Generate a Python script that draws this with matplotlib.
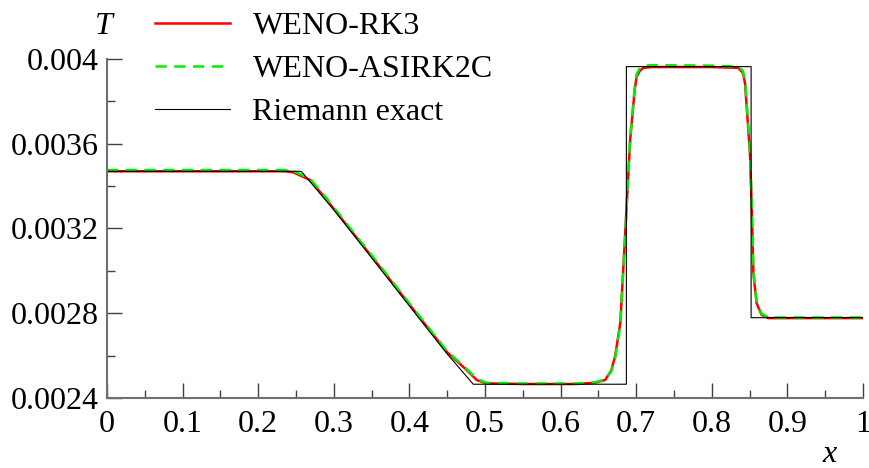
import numpy as np
import matplotlib
matplotlib.use("Agg")
import matplotlib.pyplot as plt
from matplotlib.ticker import MultipleLocator

plt.rcParams['font.family'] = ['Liberation Serif', 'DejaVu Serif']

# WENO-RK3 (red)
x_rk3 = [0, 0.235, 0.2465, 0.2685, 0.2906, 0.3038, 0.35, 0.4008, 0.4493, 0.4758,
         0.489, 0.502, 0.55, 0.62, 0.645, 0.659, 0.667, 0.672, 0.679, 0.685,
         0.692, 0.698, 0.7006, 0.705, 0.7095, 0.72, 0.80, 0.835, 0.841, 0.844,
         0.848, 0.8505, 0.8528, 0.855, 0.8593, 0.866, 0.875, 1.0]
T_rk3 = [0.00347, 0.00347, 0.003465, 0.003429, 0.003335, 0.003275, 0.003068, 0.002838, 0.002618, 0.002532,
         0.002485, 0.002469, 0.002466, 0.002466, 0.002472, 0.002485, 0.00253, 0.002595, 0.002754, 0.003146,
         0.003618, 0.003854, 0.003917, 0.003945, 0.003958, 0.003962, 0.003962, 0.003958, 0.003935, 0.003885,
         0.00368, 0.00355, 0.003303, 0.002989, 0.002847, 0.002792, 0.002777, 0.002777]

# WENO-ASIRK2C (green dashed)
x_asirk = [0, 0.235, 0.2465, 0.2685, 0.2906, 0.3038, 0.35, 0.4008, 0.4493, 0.4758,
           0.489, 0.502, 0.55, 0.62, 0.645, 0.659, 0.667, 0.672, 0.679, 0.685,
           0.692, 0.698, 0.7006, 0.705, 0.7095, 0.72, 0.80, 0.835, 0.841, 0.844,
           0.848, 0.8505, 0.8528, 0.855, 0.8593, 0.866, 0.875, 1.0]
T_asirk = [0.003476, 0.003476, 0.003471, 0.003436, 0.003342, 0.003282, 0.003074, 0.002843, 0.002623, 0.002537,
           0.00249, 0.002472, 0.002468, 0.002468, 0.002474, 0.002487, 0.002525, 0.002585, 0.002745, 0.00314,
           0.003625, 0.003865, 0.003928, 0.003958, 0.003968, 0.003971, 0.003969, 0.003963, 0.003945, 0.0039,
           0.0037, 0.00357, 0.00332, 0.003, 0.002855, 0.002797, 0.00278, 0.00278]

# Riemann exact (black)
x_exact = [0, 0.257, 0.3038, 0.4008, 0.4493, 0.4845, 0.687, 0.687, 0.852, 0.852, 1.0]
T_exact = [0.00347, 0.00347, 0.003272, 0.002831, 0.002611, 0.002465, 0.002465,
           0.003964, 0.003964, 0.002779, 0.002779]

xtick_labels = ['0', '0.1', '0.2', '0.3', '0.4', '0.5', '0.6', '0.7', '0.8', '0.9', '1']
ytick_vals = [0.0024, 0.0028, 0.0032, 0.0036, 0.004]
ytick_labels = ['0.0024', '0.0028', '0.0032', '0.0036', '0.004']

fs = 23

fig = plt.figure(figsize=(8.7, 4.68), dpi=100)
ax = fig.add_axes([107/870, 1-398/468, 756/870, 339/468])

ax.plot(x_rk3, T_rk3, color='#ff0000', lw=1.8, label='WENO-RK3')
ax.plot(x_asirk, T_asirk, color='#00ee00', lw=1.8, ls=(0, (4.5, 3)), label='WENO-ASIRK2C')
ax.plot(x_exact, T_exact, color='black', lw=0.8, label='Riemann exact')

ax.set_xlim(0, 1)
ax.set_ylim(0.0024, 0.004)
ax.set_xticks(np.linspace(0, 1, 11))
ax.set_xticklabels(xtick_labels)
ax.set_yticks(ytick_vals)
ax.set_yticklabels(ytick_labels)
ax.xaxis.set_minor_locator(MultipleLocator(0.05))
ax.yaxis.set_minor_locator(MultipleLocator(0.0002))

for s in ['top', 'right']:
    ax.spines[s].set_visible(False)
for s in ['left', 'bottom']:
    ax.spines[s].set_color('#707070')
    ax.spines[s].set_linewidth(1.5)

ax.tick_params(which='major', direction='in', length=11, width=1.0, color='#404040',
               labelsize=fs, pad=6)
ax.tick_params(which='minor', direction='in', length=6, width=1.0, color='#404040')
ax.tick_params(axis='x', which='major', pad=9)

fig.text(104/870, 1-27/468, 'T', fontsize=fs, style='italic', ha='center', va='center')
fig.text(830/870, 1-454/468, 'x', fontsize=fs, style='italic', ha='center', va='center')

ax.legend(loc='upper left', bbox_to_anchor=(155/870, 1-12/468), bbox_transform=fig.transFigure,
          frameon=False, fontsize=fs, handlelength=2.35, handletextpad=0.7, labelspacing=0.42,
          borderaxespad=0, borderpad=0)

fig.savefig('out.png', dpi=100)
